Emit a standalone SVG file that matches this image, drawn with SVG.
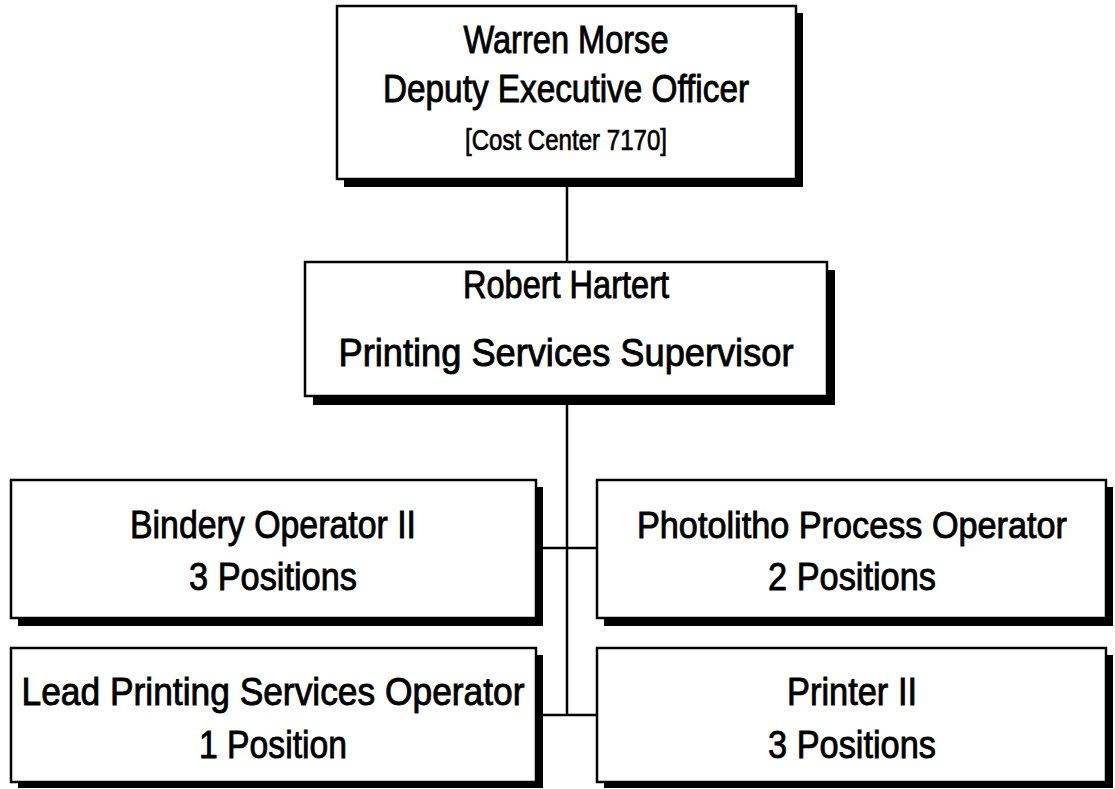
<svg xmlns="http://www.w3.org/2000/svg" width="1115" height="789" viewBox="0 0 1115 789">
<style>
.box{fill:#fff;stroke:#000;stroke-width:2.5}
.shadow{fill:#000}
.conn{stroke:#000;stroke-width:2.5;fill:none}
text{font-family:"Liberation Sans Narrow","Arial Narrow","Liberation Sans",Arial,sans-serif;fill:#000;stroke:#000;stroke-width:0.9;text-anchor:middle;font-size:39px}
.small{font-size:29px;stroke-width:0.7}
.mid{font-size:37px}
</style>
<rect width="1115" height="789" fill="#fff"/>
<g id="connectors">
<line class="conn" x1="567" y1="185" x2="567" y2="262"/>
<line class="conn" x1="567" y1="404" x2="567" y2="715"/>
<line class="conn" x1="536" y1="548" x2="597" y2="548"/>
<line class="conn" x1="536" y1="715" x2="597" y2="715"/>
</g>
<g id="warren-morse">
<rect class="shadow" x="344" y="13" width="459" height="174"/>
<rect class="box" x="337" y="6" width="459" height="173"/>
<text x="566" y="53" textLength="205" lengthAdjust="spacingAndGlyphs">Warren Morse</text>
<text x="566" y="102" textLength="366" lengthAdjust="spacingAndGlyphs">Deputy Executive Officer</text>
<text class="small" x="566" y="150" textLength="202" lengthAdjust="spacingAndGlyphs">[Cost Center 7170]</text>
</g>
<g id="robert-hartert">
<rect class="shadow" x="313" y="270" width="522" height="135"/>
<rect class="box" x="305" y="262" width="522" height="134"/>
<text x="566" y="298" textLength="206" lengthAdjust="spacingAndGlyphs">Robert Hartert</text>
<text x="566" y="366" textLength="455" lengthAdjust="spacingAndGlyphs">Printing Services Supervisor</text>
</g>
<g id="bindery-operator">
<rect class="shadow" x="18" y="487" width="525" height="139"/>
<rect class="box" x="11" y="480" width="525" height="138"/>
<text x="273" y="538" textLength="286" lengthAdjust="spacingAndGlyphs">Bindery Operator II</text>
<text x="273" y="590" textLength="168" lengthAdjust="spacingAndGlyphs">3 Positions</text>
</g>
<g id="photolitho-operator">
<rect class="shadow" x="604" y="487" width="509" height="139"/>
<rect class="box" x="597" y="480" width="509" height="138"/>
<text class="mid" x="852" y="538" textLength="430" lengthAdjust="spacingAndGlyphs">Photolitho Process Operator</text>
<text x="852" y="590" textLength="168" lengthAdjust="spacingAndGlyphs">2 Positions</text>
</g>
<g id="lead-printing-operator">
<rect class="shadow" x="18" y="655" width="525" height="133"/>
<rect class="box" x="11" y="648" width="525" height="134"/>
<text x="273" y="705" textLength="503" lengthAdjust="spacingAndGlyphs">Lead Printing Services Operator</text>
<text x="273" y="758" textLength="148" lengthAdjust="spacingAndGlyphs">1 Position</text>
</g>
<g id="printer-ii">
<rect class="shadow" x="604" y="655" width="509" height="133"/>
<rect class="box" x="597" y="648" width="509" height="134"/>
<text x="852" y="705" textLength="130" lengthAdjust="spacingAndGlyphs">Printer II</text>
<text x="852" y="758" textLength="168" lengthAdjust="spacingAndGlyphs">3 Positions</text>
</g>
</svg>
